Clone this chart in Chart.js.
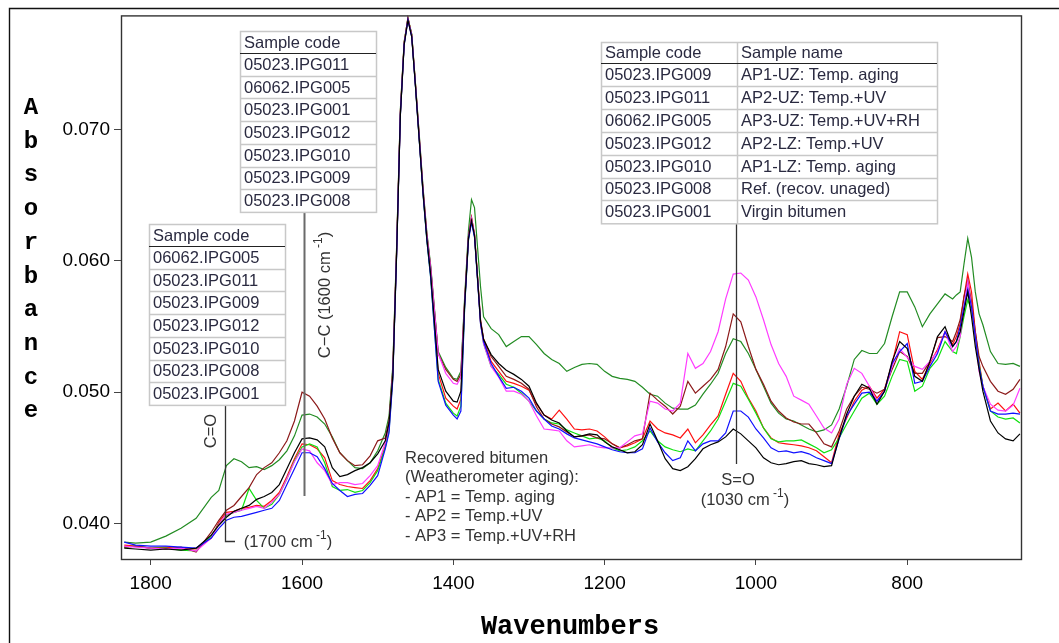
<!DOCTYPE html>
<html><head><meta charset="utf-8">
<script src="https://cdn.jsdelivr.net/npm/chart.js@4.4.0/dist/chart.umd.min.js"></script>
<style>html,body{margin:0;padding:0;background:#fff;overflow:hidden}canvas{display:block}</style>
</head><body>
<canvas id="c" width="1059" height="643"></canvas>
<script>
// ---- data ----
const wavenumbers = [1835,1820,1800,1780,1760,1740,1720,1710,1700,1690,1680,1670,1660,1650,1640,1630,1620,1610,1600,1590,1580,1570,1560,1550,1540,1530,1520,1510,1500,
 1490,1485,1480,1475,1470,1465,1460,1455,1450,1445,1440,1435,1430,1420,1410,1400,1395,1390,1385,1380,1376,1372,1368,1364,1360,
 1350,1340,1330,1320,1310,1300,1290,1280,1270,1260,1250,1240,1230,1220,1210,1200,1190,1180,1170,1160,1150,1140,1130,
 1120,1110,1100,1090,1080,1070,1060,1050,1040,1030,1020,1010,1000,990,980,970,960,950,940,930,920,910,900,
 890,880,870,860,850,840,830,820,810,800,790,780,770,760,750,740,735,730,725,720,715,710,705,700,690,680,670,660,651];

const xTicks = [1800,1600,1400,1200,1000,800];
const yTicks = [0.040,0.050,0.060,0.070];

// 05023.IPG001 Virgin bitumen (black)
const s001 = [0.03813,0.03806,0.03798,0.03806,0.03798,0.03813,0.03912,0.03987,0.04048,0.04093,0.04116,0.04138,0.04184,0.04206,0.04237,0.04297,0.04418,0.04539,0.04645,0.04652,0.04637,0.04584,0.04426,0.04358,0.04373,0.04403,0.04426,0.04463,0.04531,
 0.04630,0.04766,0.05129,0.06051,0.07109,0.07646,0.07835,0.07707,0.07329,0.06920,0.06520,0.06172,0.05900,0.05174,0.05008,0.04932,0.04925,0.05008,0.05673,0.06172,0.06308,0.06195,0.05870,0.05537,0.05401,
 0.05287,0.05219,0.05167,0.05136,0.05098,0.05046,0.04917,0.04826,0.04789,0.04766,0.04705,0.04660,0.04668,0.04683,0.04675,0.04622,0.04584,0.04562,0.04539,0.04547,0.04600,0.04758,0.04630,
 0.04494,0.04418,0.04403,0.04433,0.04494,0.04569,0.04600,0.04622,0.04660,0.04720,0.04683,0.04630,0.04577,0.04501,0.04463,0.04448,0.04456,0.04471,0.04479,0.04456,0.04448,0.04433,0.04441,
 0.04652,0.04834,0.04970,0.05061,0.05030,0.04909,0.05008,0.05235,0.05386,0.05333,0.05121,0.05083,0.05235,0.05424,0.05499,0.05348,0.05386,0.05461,0.05613,0.05764,0.05575,0.05348,0.05174,0.05008,0.04781,0.04690,0.04645,0.04630,0.04683];

// 05023.IPG008 Ref. (recov. unaged) (blue)
const s008 = [0.03859,0.03836,0.03828,0.03828,0.03821,0.03813,0.03889,0.03964,0.04025,0.04048,0.04055,0.04070,0.04085,0.04101,0.04116,0.04176,0.04297,0.04418,0.04539,0.04539,0.04509,0.04418,0.04305,0.04252,0.04206,0.04222,0.04229,0.04290,0.04365,
 0.04569,0.04690,0.05098,0.06036,0.07109,0.07646,0.07835,0.07707,0.07321,0.06913,0.06505,0.06157,0.05877,0.05083,0.04902,0.04826,0.04796,0.04857,0.05650,0.06157,0.06293,0.06180,0.05854,0.05522,0.05386,
 0.05219,0.05121,0.05030,0.05038,0.05008,0.04955,0.04857,0.04796,0.04743,0.04720,0.04683,0.04652,0.04637,0.04622,0.04607,0.04584,0.04562,0.04547,0.04539,0.04539,0.04569,0.04728,0.04622,
 0.04539,0.04479,0.04501,0.04630,0.04554,0.04607,0.04630,0.04630,0.04690,0.04857,0.04857,0.04811,0.04720,0.04652,0.04577,0.04547,0.04554,0.04539,0.04547,0.04531,0.04501,0.04479,0.04456,
 0.04645,0.04819,0.04909,0.04993,0.05000,0.04932,0.05008,0.05219,0.05310,0.05371,0.05068,0.05083,0.05197,0.05295,0.05461,0.05348,0.05386,0.05499,0.05650,0.05786,0.05650,0.05424,0.05197,0.05046,0.04857,0.04834,0.04834,0.04841,0.04834];

// 05023.IPG012 AP2-LZ (red)
const s012 = [0.03836,0.03828,0.03813,0.03821,0.03806,0.03806,0.03889,0.04010,0.04085,0.04093,0.04116,0.04123,0.04138,0.04131,0.04176,0.04237,0.04358,0.04494,0.04607,0.04600,0.04569,0.04501,0.04327,0.04297,0.04282,0.04274,0.04267,0.04327,0.04418,
 0.04592,0.04720,0.05121,0.06066,0.07125,0.07661,0.07850,0.07722,0.07336,0.06928,0.06520,0.06172,0.05900,0.05144,0.04955,0.04894,0.04872,0.04947,0.05688,0.06180,0.06331,0.06202,0.05877,0.05537,0.05401,
 0.05235,0.05159,0.05083,0.05068,0.05046,0.05015,0.04909,0.04826,0.04796,0.04864,0.04796,0.04720,0.04713,0.04720,0.04705,0.04660,0.04607,0.04577,0.04592,0.04615,0.04645,0.04781,0.04720,
 0.04690,0.04675,0.04652,0.04720,0.04615,0.04675,0.04751,0.04819,0.04985,0.05144,0.05083,0.04955,0.04857,0.04728,0.04652,0.04615,0.04607,0.04600,0.04592,0.04577,0.04554,0.04509,0.04463,
 0.04683,0.04804,0.04932,0.05015,0.05046,0.04955,0.05023,0.05219,0.05461,0.05439,0.05159,0.05098,0.05219,0.05325,0.05461,0.05363,0.05424,0.05522,0.05726,0.05900,0.05764,0.05461,0.05235,0.05046,0.04872,0.04917,0.04857,0.04909,0.04841];

// 05023.IPG010 AP1-LZ (green)
const s010 = [0.03821,0.03828,0.03813,0.03813,0.03798,0.03791,0.03904,0.03995,0.04063,0.04085,0.04101,0.04267,0.04176,0.04116,0.04146,0.04222,0.04342,0.04479,0.04584,0.04607,0.04584,0.04463,0.04282,0.04252,0.04259,0.04237,0.04252,0.04312,0.04403,
 0.04577,0.04705,0.05114,0.06059,0.07117,0.07654,0.07843,0.07714,0.07329,0.06920,0.06512,0.06157,0.05877,0.05098,0.04917,0.04841,0.04819,0.04894,0.05658,0.06164,0.06316,0.06187,0.05862,0.05522,0.05371,
 0.05197,0.05136,0.05061,0.05038,0.04993,0.04932,0.04857,0.04796,0.04766,0.04758,0.04713,0.04690,0.04668,0.04645,0.04652,0.04630,0.04577,0.04554,0.04562,0.04584,0.04630,0.04705,0.04630,
 0.04584,0.04562,0.04547,0.04569,0.04554,0.04630,0.04705,0.04796,0.04932,0.05068,0.05046,0.04947,0.04841,0.04728,0.04645,0.04622,0.04630,0.04630,0.04637,0.04607,0.04577,0.04539,0.04562,
 0.04652,0.04758,0.04857,0.04955,0.04993,0.04909,0.04970,0.05121,0.05250,0.05235,0.05008,0.05046,0.05182,0.05250,0.05386,0.05310,0.05295,0.05424,0.05575,0.05703,0.05628,0.05424,0.05212,0.05046,0.04857,0.04811,0.04796,0.04804,0.04766];

// 05023.IPG009 AP1-UZ (magenta)
const s009 = [0.03828,0.03821,0.03813,0.03806,0.03813,0.03791,0.03889,0.03995,0.04070,0.04085,0.04101,0.04116,0.04131,0.04116,0.04161,0.04222,0.04342,0.04471,0.04569,0.04554,0.04463,0.04403,0.04297,0.04312,0.04312,0.04297,0.04305,0.04365,0.04441,
 0.04615,0.04743,0.05144,0.06066,0.07125,0.07654,0.07843,0.07714,0.07336,0.06936,0.06535,0.06195,0.05945,0.05295,0.05144,0.05068,0.05061,0.05114,0.05688,0.06180,0.06323,0.06195,0.05870,0.05522,0.05371,
 0.05197,0.05114,0.05008,0.05008,0.04985,0.04932,0.04819,0.04720,0.04713,0.04705,0.04630,0.04584,0.04592,0.04600,0.04584,0.04577,0.04577,0.04577,0.04622,0.04668,0.04683,0.04932,0.04917,
 0.04872,0.04857,0.04917,0.05295,0.05182,0.05219,0.05310,0.05461,0.05711,0.05900,0.05908,0.05854,0.05726,0.05552,0.05363,0.05219,0.05121,0.04970,0.04940,0.04909,0.04819,0.04728,0.04690,
 0.04796,0.05061,0.05182,0.05144,0.05046,0.04932,0.05008,0.05197,0.05333,0.05265,0.05197,0.05174,0.05235,0.05310,0.05461,0.05310,0.05348,0.05424,0.05650,0.05841,0.05650,0.05424,0.05159,0.05046,0.04909,0.04864,0.04857,0.04902,0.05030];

// 05023.IPG011 AP2-UZ (brown)
const s011 = [0.03821,0.03828,0.03813,0.03806,0.03821,0.03783,0.03934,0.04025,0.04101,0.04138,0.04206,0.04274,0.04373,0.04426,0.04463,0.04539,0.04630,0.04781,0.05000,0.04970,0.04894,0.04796,0.04652,0.04539,0.04479,0.04441,0.04448,0.04516,0.04630,
 0.04652,0.04781,0.05174,0.06081,0.07140,0.07661,0.07850,0.07722,0.07344,0.06943,0.06542,0.06202,0.05953,0.05295,0.05174,0.05098,0.05083,0.05136,0.05696,0.06187,0.06331,0.06202,0.05885,0.05552,0.05408,
 0.05272,0.05197,0.05121,0.05098,0.05068,0.05023,0.04887,0.04796,0.04758,0.04736,0.04698,0.04660,0.04668,0.04675,0.04652,0.04645,0.04607,0.04577,0.04600,0.04630,0.04645,0.04993,0.04940,
 0.04894,0.04834,0.04894,0.05083,0.04993,0.05046,0.05098,0.05174,0.05348,0.05597,0.05537,0.05348,0.05174,0.05061,0.04932,0.04857,0.04804,0.04773,0.04758,0.04758,0.04690,0.04607,0.04584,
 0.04705,0.04872,0.04970,0.05038,0.05023,0.04993,0.05023,0.05174,0.05310,0.05272,0.05144,0.05144,0.05235,0.05416,0.05424,0.05386,0.05461,0.05552,0.05726,0.05854,0.05688,0.05461,0.05272,0.05197,0.05083,0.05008,0.04985,0.05023,0.05098];

// 06062.IPG005 AP3-UZ (dark green)
const s005 = [0.03859,0.03851,0.03859,0.03904,0.03964,0.04040,0.04199,0.04252,0.04441,0.04494,0.04471,0.04426,0.04433,0.04411,0.04441,0.04486,0.04554,0.04668,0.04826,0.04834,0.04811,0.04758,0.04660,0.04539,0.04479,0.04426,0.04418,0.04463,0.04554,
 0.04690,0.04819,0.05197,0.06104,0.07155,0.07669,0.07850,0.07729,0.07351,0.06958,0.06558,0.06217,0.05968,0.05310,0.05189,0.05106,0.05098,0.05159,0.05726,0.06232,0.06467,0.06406,0.06104,0.05802,0.05575,
 0.05484,0.05439,0.05348,0.05386,0.05424,0.05424,0.05363,0.05295,0.05250,0.05219,0.05159,0.05189,0.05212,0.05219,0.05212,0.05159,0.05121,0.05106,0.05098,0.05083,0.05038,0.04985,0.04970,
 0.04917,0.04879,0.04872,0.04872,0.04902,0.04985,0.05061,0.05144,0.05295,0.05408,0.05386,0.05295,0.05174,0.05046,0.04917,0.04841,0.04796,0.04781,0.04751,0.04720,0.04698,0.04713,0.04751,
 0.04872,0.05046,0.05250,0.05318,0.05295,0.05295,0.05371,0.05575,0.05764,0.05764,0.05650,0.05499,0.05597,0.05673,0.05749,0.05711,0.05741,0.05764,0.05975,0.06172,0.06028,0.05764,0.05597,0.05514,0.05310,0.05219,0.05212,0.05219,0.05197];

// ---- table / annotation texts ----
const tableSO_header = ['Sample code', 'Sample name'];
const tableSO_codes = ['05023.IPG009','05023.IPG011','06062.IPG005','05023.IPG012','05023.IPG010','05023.IPG008','05023.IPG001'];
const tableSO_names = ['AP1-UZ: Temp. aging','AP2-UZ: Temp.+UV','AP3-UZ: Temp.+UV+RH','AP2-LZ: Temp.+UV','AP1-LZ: Temp. aging','Ref. (recov. unaged)','Virgin bitumen'];
const tableCC_codes = ['05023.IPG011','06062.IPG005','05023.IPG001','05023.IPG012','05023.IPG010','05023.IPG009','05023.IPG008'];
const tableCO_codes = ['06062.IPG005','05023.IPG011','05023.IPG009','05023.IPG012','05023.IPG010','05023.IPG008','05023.IPG001'];
const noteLines = ['Recovered bitumen','(Weatherometer aging):','- AP1 = Temp. aging','- AP2 = Temp.+UV','- AP3 = Temp.+UV+RH'];

const series = [
  {label:'05023.IPG001', values:s001, color:'#000000'},
  {label:'05023.IPG008', values:s008, color:'#1010ff'},
  {label:'05023.IPG009', values:s009, color:'#ff3cff'},
  {label:'05023.IPG011', values:s011, color:'#8c1a1a'},
  {label:'05023.IPG010', values:s010, color:'#10e010'},
  {label:'06062.IPG005', values:s005, color:'#238c23'},
  {label:'05023.IPG012', values:s012, color:'#ff1010'}
];

const datasets = series.map(s => ({
  label: s.label,
  data: wavenumbers.map((w, i) => ({x: w, y: s.values[i]})),
  borderColor: s.color, borderWidth: 1.2, pointRadius: 0, fill: false, tension: 0
}));

const FONT = '"Liberation Sans", Arial, sans-serif';
const TXT = '#2a2a40';

function drawTable(ctx, x, y, colW, headH, rowH, header, cols) {
  const W = colW.reduce((a,b)=>a+b,0);
  const n = cols[0].length;
  const H = headH + n*rowH;
  ctx.save();
  ctx.fillStyle = '#fff';
  ctx.fillRect(x, y, W, H);
  ctx.strokeStyle = '#c8c8c8'; ctx.lineWidth = 1.5;
  ctx.strokeRect(x+0.5, y+0.5, W, H);
  for (let r=1; r<n; r++) {
    const yy = Math.round(y+headH+r*rowH)+0.5;
    ctx.beginPath(); ctx.moveTo(x, yy); ctx.lineTo(x+W, yy); ctx.stroke();
  }
  let cx = x;
  for (let c=0; c<colW.length-1; c++) {
    cx += colW[c];
    ctx.beginPath(); ctx.moveTo(cx+0.5, y); ctx.lineTo(cx+0.5, y+H); ctx.stroke();
  }
  ctx.strokeStyle = '#222'; ctx.lineWidth = 1.2;
  ctx.beginPath(); ctx.moveTo(x, y+headH+0.5); ctx.lineTo(x+W, y+headH+0.5); ctx.stroke();
  ctx.fillStyle = TXT; ctx.font = '16.5px ' + FONT; ctx.textBaseline = 'middle'; ctx.textAlign = 'left';
  cx = x;
  for (let c=0; c<colW.length; c++) {
    ctx.fillText(header[c], cx+4, y+headH/2+1);
    for (let r=0; r<n; r++) ctx.fillText(cols[c][r], cx+4, y+headH+r*rowH+rowH/2+1);
    cx += colW[c];
  }
  ctx.restore();
}

function supWidth(ctx, parts) {
  let w = 0;
  for (const p of parts) { ctx.font = (p[1] ? '12px ' : '16.5px ') + FONT; w += ctx.measureText(p[0]).width; }
  return w;
}
function drawSup(ctx, cx, cy, parts) {
  const w = supWidth(ctx, parts);
  let x = cx - w/2;
  ctx.textAlign = 'left'; ctx.textBaseline = 'middle';
  for (const p of parts) {
    ctx.font = (p[1] ? '12px ' : '16.5px ') + FONT;
    ctx.fillText(p[0], x, p[1] ? cy-6 : cy);
    x += ctx.measureText(p[0]).width;
  }
}

const decor = {
  id: 'decor',
  afterDraw(chart) {
    const ctx = chart.ctx, a = chart.chartArea;
    ctx.save();
    // plot frame
    ctx.strokeStyle = '#333'; ctx.lineWidth = 1.4;
    ctx.strokeRect(a.left+0.5, a.top+0.5, a.right-a.left, a.bottom-a.top);
    // outer frame
    ctx.strokeStyle = '#111'; ctx.lineWidth = 1.4;
    ctx.beginPath(); ctx.moveTo(9.5, 643); ctx.lineTo(9.5, 8.5); ctx.lineTo(1059, 8.5); ctx.stroke();

    // connector lines
    ctx.strokeStyle = '#6a6a6a'; ctx.lineWidth = 2;
    ctx.beginPath(); ctx.moveTo(304.5, 212); ctx.lineTo(304.5, 496); ctx.stroke();
    ctx.strokeStyle = '#333'; ctx.lineWidth = 1.3;
    ctx.beginPath(); ctx.moveTo(225.5, 405); ctx.lineTo(225.5, 541.5); ctx.lineTo(235, 541.5); ctx.stroke();
    ctx.beginPath(); ctx.moveTo(736.5, 223); ctx.lineTo(736.5, 464); ctx.stroke();

    // tables
    drawTable(ctx, 240, 31, [136], 22, 22.7, ['Sample code'], [tableCC_codes]);
    drawTable(ctx, 149, 224, [136], 22, 22.7, ['Sample code'], [tableCO_codes]);
    drawTable(ctx, 601, 42, [136, 200], 21, 22.9, tableSO_header, [tableSO_codes, tableSO_names]);

    // annotations
    ctx.fillStyle = '#333';
    ctx.save(); ctx.translate(325, 295); ctx.rotate(-Math.PI/2);
    drawSup(ctx, 0, 0, [['C\u2212C (1600 cm', 0], [' -1', 1], [')', 0]]);
    ctx.restore();
    ctx.save(); ctx.translate(211, 431); ctx.rotate(-Math.PI/2);
    drawSup(ctx, 0, 0, [['C=O', 0]]);
    ctx.restore();
    drawSup(ctx, 288, 542, [['(1700 cm', 0], [' -1', 1], [')', 0]]);
    drawSup(ctx, 738, 480, [['S=O', 0]]);
    drawSup(ctx, 745, 500, [['(1030 cm', 0], [' -1', 1], [')', 0]]);
    ctx.font = '16.5px ' + FONT; ctx.textAlign = 'left'; ctx.textBaseline = 'middle';
    noteLines.forEach((t, i) => ctx.fillText(t, 405, 458 + i*19.5));

    // axis titles
    ctx.fillStyle = '#000';
    ctx.font = 'bold 24px "Liberation Mono", "Courier New", monospace';
    ctx.textAlign = 'center'; ctx.textBaseline = 'middle';
    'Absorbance'.split('').forEach((ch, i) => ctx.fillText(ch, 31, 108 + i*33.7));
    ctx.font = 'bold 27px "Liberation Mono", "Courier New", monospace';
    ctx.fillText('Wavenumbers', 570, 627);
    ctx.restore();
  }
};

new Chart(document.getElementById('c').getContext('2d'), {
  type: 'line',
  data: { datasets },
  options: {
    responsive: false, animation: false, devicePixelRatio: 1,
    layout: { padding: { top: 11, right: 38, left: 0, bottom: 0 } },
    plugins: { legend: { display: false }, tooltip: { enabled: false } },
    scales: {
      x: {
        type: 'linear', reverse: true, min: 649.6, max: 1839.3,
        afterBuildTicks: s => { s.ticks = xTicks.map(v => ({ value: v })); },
        afterFit: s => { s.height = 84; },
        grid: { drawOnChartArea: false, drawTicks: true, tickLength: 6, color: '#444', lineWidth: 1 },
        border: { display: false },
        ticks: { font: { family: FONT, size: 19 }, color: '#000', padding: 7, maxRotation: 0, autoSkip: false,
                 callback: v => String(v) }
      },
      y: {
        type: 'linear', min: 0.0373, max: 0.0787,
        afterBuildTicks: s => { s.ticks = yTicks.map(v => ({ value: v })); },
        afterFit: s => { s.width = 121; },
        grid: { drawOnChartArea: false, drawTicks: true, tickLength: 7, color: '#444', lineWidth: 1 },
        border: { display: false },
        ticks: { font: { family: FONT, size: 19 }, color: '#000', padding: 4, autoSkip: false,
                 callback: v => Number(v).toFixed(3) }
      }
    }
  },
  plugins: [decor]
});
</script>
</body></html>
